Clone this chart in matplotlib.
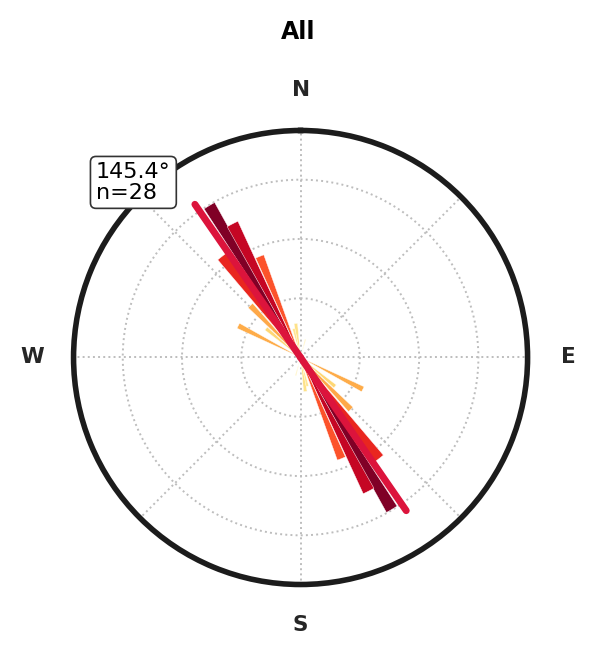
import numpy as np
import matplotlib
matplotlib.use("Agg")
import matplotlib.pyplot as plt

# rose diagram values (axial data, bins mirrored at +180)
bin_deg = [117, 130, 136, 142, 149, 153, 158, 167, 172, 195]
bin_len = [1.18, 0.76, 1.22, 2.16, 2.99, 2.53, 1.84, 0.50, 0.58, 0.32]
bin_wid = [4.6, 5.0, 5.0, 4.6, 4.0, 4.6, 4.6, 6.0, 6.0, 3.5]
mean_dir = 145.4
n_obs = 28
dir_labels = ["N", "", "E", "", "S", "", "W", ""]

fig = plt.figure(figsize=(5.96, 6.58), dpi=100)
ax = fig.add_axes([0.1233, 0.1117, 0.762, 0.690], projection="polar")
ax.set_theta_zero_location("N")
ax.set_theta_direction(-1)

cmap = plt.get_cmap("YlOrRd")
rmax = max(bin_len)
for d, r, w in zip(bin_deg, bin_len, bin_wid):
    c = cmap(r / rmax)
    for t in (d, d + 180):
        ax.bar(np.deg2rad(t), r, width=np.deg2rad(w), bottom=0, color=c,
               edgecolor="white", linewidth=0.3, zorder=2)

# mean direction line
L = rmax * 1.05
th = np.deg2rad(mean_dir)
ax.plot([th, th], [0, L], color="crimson", lw=5, solid_capstyle="round", zorder=3)
ax.plot([th + np.pi, th + np.pi], [0, L], color="crimson", lw=5, solid_capstyle="round", zorder=3)

ax.set_ylim(0, 3.83)
ax.set_yticks([1, 2, 3])
ax.set_yticklabels([])
ax.set_xticks(np.deg2rad(np.arange(0, 360, 45)))
ax.set_xticklabels(dir_labels, fontsize=15.5, fontweight="bold", color="#262626")
ax.tick_params(axis="x", pad=19)
ax.grid(True, linestyle=":", color="#bdbdbd", linewidth=1.4)
ax.spines["polar"].set_linewidth(4)
ax.spines["polar"].set_color("#1c1c1c")

fig.text(0.5, 1 - 32 / 658, "All", ha="center", va="center", fontsize=17, fontweight="bold")
fig.text(96 / 596, 1 - 162 / 658, "%.1f°\nn=%d" % (mean_dir, n_obs), ha="left", va="top",
         fontsize=16, linespacing=1.05,
         bbox=dict(boxstyle="round,pad=0.25", facecolor="white", edgecolor="#333333", lw=1.2))

fig.savefig("out.png", dpi=100)
